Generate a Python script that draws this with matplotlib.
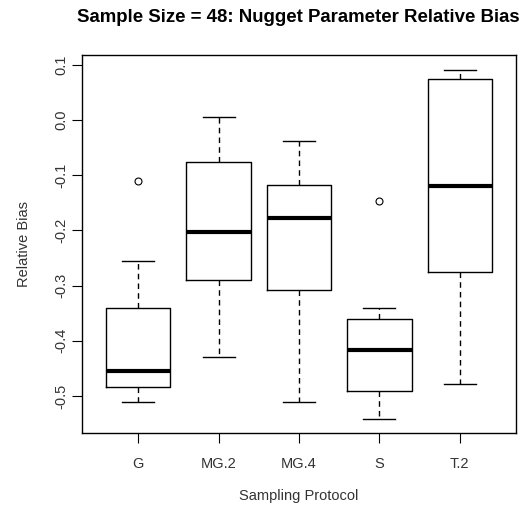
import matplotlib
matplotlib.use("Agg")
import matplotlib.pyplot as plt

# values
protocols = ["G", "MG.2", "MG.4", "S", "T.2"]
whisker_low = [-0.511, -0.430, -0.511, -0.542, -0.479]
box_low = [-0.484, -0.290, -0.307, -0.490, -0.276]
medians = [-0.455, -0.202, -0.177, -0.417, -0.120]
box_high = [-0.340, -0.075, -0.117, -0.361, 0.075]
whisker_high = [-0.255, 0.005, -0.038, -0.340, 0.091]
outliers = [[-0.110], [], [], [-0.146], []]

stats = []
for i, name in enumerate(protocols):
    stats.append({
        "label": name,
        "whislo": whisker_low[i],
        "q1": box_low[i],
        "med": medians[i],
        "q3": box_high[i],
        "whishi": whisker_high[i],
        "fliers": outliers[i],
    })

plt.rcParams["font.family"] = ["Liberation Sans", "DejaVu Sans"]

fig = plt.figure(figsize=(5.22, 5.14), dpi=100)
ax = fig.add_axes([82 / 522, 81 / 514, 434 / 522, 378 / 514])

ax.bxp(stats, positions=range(1, 6), widths=0.8, capwidths=0.4,
       boxprops=dict(color="black", linewidth=1),
       whiskerprops=dict(color="black", linewidth=1, linestyle=(0, (4, 3))),
       capprops=dict(color="black", linewidth=1),
       medianprops=dict(color="black", linewidth=3, solid_capstyle="butt"),
       flierprops=dict(marker="o", markerfacecolor="none", markeredgecolor="black",
                       markersize=5, markeredgewidth=0.8))

ax.set_xlim(0.3, 5.7)
ax.set_ylim(-0.567, 0.118)
ax.set_yticks([0.1, 0.0, -0.1, -0.2, -0.3, -0.4, -0.5])
ax.set_yticklabels(["0.1", "0.0", "-0.1", "-0.2", "-0.3", "-0.4", "-0.5"],
                   rotation=90, va="center")
ax.set_xticks(range(1, 6))
ax.set_xticklabels(protocols)
ax.tick_params(axis="both", direction="out", length=7, width=0.8,
               labelsize=10.5, colors="black", labelcolor="#333333")
ax.tick_params(axis="x", pad=10)
ax.tick_params(axis="y", pad=2.5)

for s in ax.spines.values():
    s.set_linewidth(1)

ax.set_xlabel("Sampling Protocol", fontsize=10.5, color="#333333", labelpad=13)
ax.set_ylabel("Relative Bias", fontsize=10.5, color="#333333", labelpad=17)
fig.text(298 / 522, 1 - 18 / 514, "Sample Size = 48: Nugget Parameter Relative Bias",
         ha="center", va="center", fontsize=13.4, fontweight="bold")

fig.savefig("out.png", dpi=100)
